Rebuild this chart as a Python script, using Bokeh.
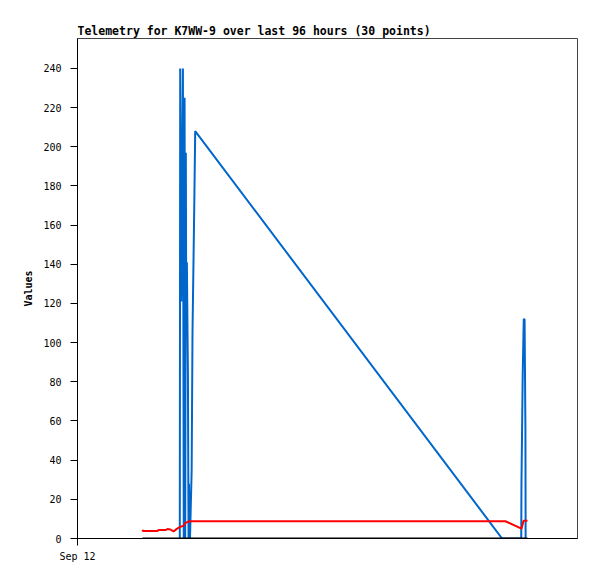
from bokeh.plotting import figure
from bokeh.models import Range1d, FixedTicker
from bokeh.embed import file_html
from bokeh.resources import INLINE

# Time in hours after Sep 12 00:00
black_t = [3.12, 21.60]
black_v = [0, 0]

red_t = [3.12, 3.14, 3.84, 3.89, 4.22, 4.32, 4.46, 4.61, 4.75, 4.90, 5.09, 5.18, 5.38, 20.54, 21.31, 21.41, 21.60]
red_v = [4.5, 3.8, 3.8, 4.3, 4.3, 4.8, 4.6, 3.6, 4.8, 5.8, 6.5, 8.0, 8.8, 8.8, 5.0, 9.0, 9.0]

blue_t = [4.91, 4.93, 4.98, 5.06, 5.10, 5.14, 5.17, 5.20, 5.22, 5.25, 5.30, 5.33, 5.35, 5.40,
          5.48, 5.52, 5.61, 5.65, 20.38, 21.30, 21.31, 21.37, 21.42, 21.46, 21.50, 21.51]
blue_v = [0, 240, 121, 240, 0, 225, 0, 197, 112, 141, 84, 0, 28, 0,
          35, 105, 174, 208, 0, 0, 28, 84, 112, 112, 56, 0]

y_ticks = list(range(0, 241, 20))
x_ticks = [0]
x_tick_labels = {0: "Sep 12"}

p = figure(width=589, height=571, output_backend="svg", toolbar_location=None,
           x_range=Range1d(0, 24), y_range=Range1d(0, 255.3),
           min_border_left=77, min_border_right=12, min_border_top=38, min_border_bottom=33,
           title="Telemetry for K7WW-9 over last 96 hours (30 points)")

p.title.text_font = "DejaVu Sans Mono"
p.title.text_font_size = "11.5px"
p.title.text_font_style = "bold"
p.title.text_color = "black"
p.title.align = "left"
p.title.standoff = 2
p.title.offset = 0

p.xgrid.visible = False
p.ygrid.visible = False
p.outline_line_color = "#444444"
p.outline_line_width = 1

p.yaxis.ticker = FixedTicker(ticks=y_ticks)
p.xaxis.ticker = FixedTicker(ticks=x_ticks)
p.xaxis.major_label_overrides = x_tick_labels
for ax in (p.xaxis[0], p.yaxis[0]):
    ax.major_tick_out = 7
    ax.major_tick_in = 0
    ax.minor_tick_out = 0
    ax.minor_tick_in = 0
    ax.axis_line_color = "black"
    ax.major_tick_line_color = "black"
    ax.major_label_text_font = "DejaVu Sans Mono"
    ax.major_label_text_font_size = "10px"
    ax.major_label_text_color = "black"
p.yaxis.major_label_standoff = 9
p.xaxis.major_label_standoff = 5
p.yaxis.axis_label = "Values"
p.yaxis.axis_label_text_font = "DejaVu Sans Mono"
p.yaxis.axis_label_text_font_size = "10px"
p.yaxis.axis_label_text_font_style = "bold"
p.yaxis.axis_label_standoff = 6
p.yaxis.axis_label_text_color = "black"

p.line(blue_t, blue_v, line_color="#0066CC", line_width=2)
p.line(red_t, red_v, line_color="#FF0000", line_width=2)
p.line(black_t, black_v, line_color="black", line_width=2)

open("out.html", "w").write(file_html(p, INLINE))
